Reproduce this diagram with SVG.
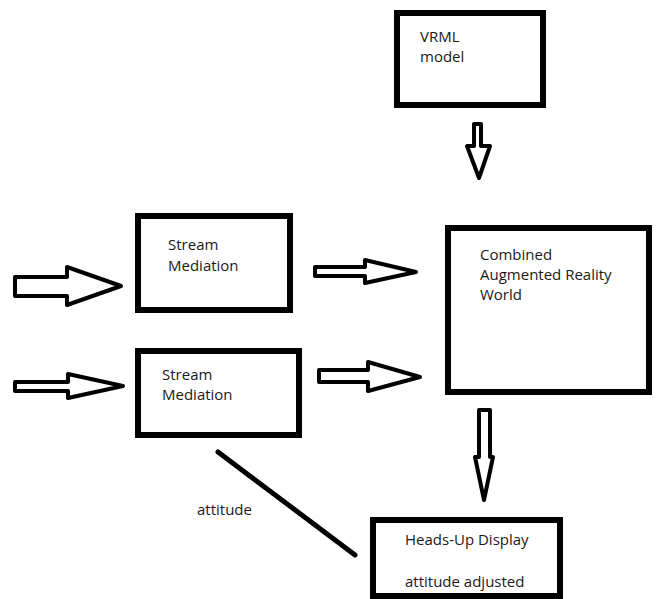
<svg xmlns="http://www.w3.org/2000/svg" width="657" height="599" viewBox="0 0 657 599">
<style>
.box{fill:#fff;stroke:#000;stroke-width:6}
.arr{fill:#fff;stroke:#000;stroke-width:4;stroke-linejoin:round}
.t{font-family:"Open Sans","Noto Sans",sans-serif;font-size:15px;fill:#1a1a1a}
</style>
<rect width="657" height="599" fill="#fff"/>
<g id="vrml">
<rect class="box" x="397" y="13" width="146" height="92"/>
<text class="t" x="420" y="42">VRML</text>
<text class="t" x="420" y="62">model</text>
</g>
<g id="stream1">
<rect class="box" x="138" y="216" width="152" height="94"/>
<text class="t" x="168" y="250">Stream</text>
<text class="t" x="168" y="271">Mediation</text>
</g>
<g id="stream2">
<rect class="box" x="138" y="351" width="161" height="84"/>
<text class="t" x="162" y="380">Stream</text>
<text class="t" x="162" y="400">Mediation</text>
</g>
<g id="combined">
<rect class="box" x="448" y="228" width="201" height="164"/>
<text class="t" x="480" y="260">Combined</text>
<text class="t" x="480" y="280">Augmented Reality</text>
<text class="t" x="480" y="300">World</text>
</g>
<g id="hud">
<rect class="box" x="373" y="520" width="187" height="76"/>
<text class="t" x="405" y="545">Heads-Up Display</text>
<text class="t" x="405" y="587">attitude adjusted</text>
</g>
<g id="connectors">
<polygon class="arr" points="474,124 481,124 481,146 490,146 479,178 467,146 474,146"/>
<polygon class="arr" points="15,277 67,277 67,267 121,286 67,305 67,296 15,296"/>
<polygon class="arr" points="15,382 68,382 68,374 123,386 68,398 68,391 15,391"/>
<polygon class="arr" points="315,267 365,267 365,260 416,272 365,283 365,276 315,276"/>
<polygon class="arr" points="319,370 368,370 368,362 420,377 368,391 368,382 319,382"/>
<polygon class="arr" points="479,410 490,410 490,457 493,457 484,500 475,457 479,457"/>
<line x1="218" y1="452" x2="355" y2="555" stroke="#000" stroke-width="5" stroke-linecap="round"/>
<text class="t" x="197" y="515">attitude</text>
</g>
</svg>
